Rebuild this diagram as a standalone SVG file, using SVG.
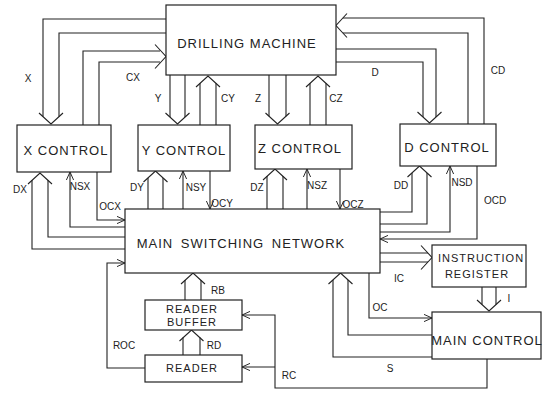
<svg xmlns="http://www.w3.org/2000/svg" width="545" height="395" viewBox="0 0 545 395">
<style>
.box{fill:#fff;stroke:#222;stroke-width:1.2}
.ln{fill:none;stroke:#222;stroke-width:1.1}
.ch{fill:none;stroke:#222;stroke-width:1.1}
.t{font-family:"Liberation Sans",Arial,sans-serif;font-size:13px;fill:#222;text-anchor:middle;letter-spacing:1px}
.s{font-family:"Liberation Sans",Arial,sans-serif;font-size:10px;fill:#222;text-anchor:middle}
</style>
<defs>
<marker id="a" viewBox="0 0 10 10" refX="10" refY="5" markerWidth="8" markerHeight="8" orient="auto" markerUnits="userSpaceOnUse">
<path d="M0,0.5 L10,5 L0,9.5" fill="none" stroke="#222" stroke-width="1.2"/>
</marker>
</defs>
<rect width="545" height="395" fill="#fff"/>

<g id="connectors">
<!-- X bus -->
<path class="ln" d="M166,19 H43 V116.6 M166,33 H59 V116.6"/>
<polyline class="ch" points="39,113 51,124 63,113"/>
<!-- CX bus -->
<path class="ln" d="M83,125 V51 H160 M99,125 V62 H160"/>
<polyline class="ch" points="155,44.5 166,56.5 155,68.5"/>
<!-- Y bus -->
<path class="ln" d="M170,75 V117 M185,75 V117"/>
<polyline class="ch" points="165.5,113 177.5,124 189.5,113"/>
<!-- CY bus -->
<path class="ln" d="M200,125 V83.3 M216,125 V83.3"/>
<polyline class="ch" points="196,87 208,76 220,87"/>
<!-- Z bus -->
<path class="ln" d="M269,75 V116.2 M286,75 V116.2"/>
<polyline class="ch" points="265.5,113 277.5,124 289.5,113"/>
<!-- CZ bus -->
<path class="ln" d="M310,125 V83.3 M326,125 V83.3"/>
<polyline class="ch" points="306,87 318,76 330,87"/>
<!-- D bus -->
<path class="ln" d="M336,49 H436 V117 M336,62 H423 V117"/>
<polyline class="ch" points="417.5,112 429.5,123 441.5,112"/>
<!-- CD bus -->
<path class="ln" d="M468,124 V33 H342.9 M484,124 V18 H342.9"/>
<polyline class="ch" points="347,13.5 336,25.5 347,37.5"/>

<!-- X control to MSN -->
<path class="ln" d="M125,249 H32 V180.3 M125,237 H48 V180.3"/>
<polyline class="ch" points="28,184 40,173 52,184"/>
<path class="ln" d="M125,227 H70 V172" marker-end="url(#a)"/>
<path class="ln" d="M97,172 V220 H125" marker-end="url(#a)"/>

<!-- Y control to MSN -->
<path class="ln" d="M148,209 V177.9 M163,209 V177.9"/>
<polyline class="ch" points="143.5,182 155.5,171 167.5,182"/>
<path class="ln" d="M183,209 V171" marker-end="url(#a)"/>
<path class="ln" d="M210,171 V209" marker-end="url(#a)"/>

<!-- Z control to MSN -->
<path class="ln" d="M267,209 V175.9 M283,209 V175.9"/>
<polyline class="ch" points="263,180 275,169 287,180"/>
<path class="ln" d="M307,209 V169" marker-end="url(#a)"/>
<path class="ln" d="M340,169 V209" marker-end="url(#a)"/>

<!-- D control to MSN -->
<path class="ln" d="M380,212 H412 V172.9 M380,224 H427 V172.9"/>
<polyline class="ch" points="407.5,177 419.5,166 431.5,177"/>
<path class="ln" d="M380,232 H450 V166" marker-end="url(#a)"/>
<path class="ln" d="M477,166 V239 H380" marker-end="url(#a)"/>

<!-- IC bus -->
<path class="ln" d="M380,253 H428 M380,262 H428"/>
<polyline class="ch" points="421,245.5 432,257.5 421,269.5"/>
<!-- I bus -->
<path class="ln" d="M482,287 V304.6 M496,287 V304.6"/>
<polyline class="ch" points="477,300 489,311 501,300"/>
<!-- OC -->
<path class="ln" d="M369,273 V318 H432" marker-end="url(#a)"/>
<!-- S bus -->
<path class="ln" d="M432,335 H348 V279.9 M432,357 H333 V279.9"/>
<polyline class="ch" points="328.5,284 340.5,273 352.5,284"/>
<!-- RC -->
<path class="ln" d="M487,359 V388 H275 V315 H242" marker-end="url(#a)"/>
<path class="ln" d="M275,367 H242" marker-end="url(#a)"/>
<!-- RB bus -->
<path class="ln" d="M185,300 V280 M201,300 V280"/>
<polyline class="ch" points="181,284 193,273 205,284"/>
<!-- RD bus -->
<path class="ln" d="M183,355 V337.5 M200,355 V337.5"/>
<polyline class="ch" points="179.5,341 191.5,330 203.5,341"/>
<!-- ROC -->
<path class="ln" d="M145,368 H107 V263 H125" marker-end="url(#a)"/>

<!-- labels -->
<text class="s" x="28" y="82">X</text>
<text class="s" x="133" y="81">CX</text>
<text class="s" x="158" y="102">Y</text>
<text class="s" x="228" y="102">CY</text>
<text class="s" x="258" y="102">Z</text>
<text class="s" x="336" y="102">CZ</text>
<text class="s" x="375" y="76">D</text>
<text class="s" x="498" y="74">CD</text>
<text class="s" x="20" y="193">DX</text>
<text class="s" x="80" y="190">NSX</text>
<text class="s" x="110" y="210">OCX</text>
<text class="s" x="137" y="191">DY</text>
<text class="s" x="196" y="191">NSY</text>
<text class="s" x="222" y="207">OCY</text>
<text class="s" x="257" y="191">DZ</text>
<text class="s" x="317" y="189">NSZ</text>
<text class="s" x="353" y="208">OCZ</text>
<text class="s" x="401" y="189">DD</text>
<text class="s" x="462" y="186">NSD</text>
<text class="s" x="495" y="204">OCD</text>
<text class="s" x="399" y="282">IC</text>
<text class="s" x="509" y="302">I</text>
<text class="s" x="380" y="311">OC</text>
<text class="s" x="390" y="372">S</text>
<text class="s" x="289" y="379">RC</text>
<text class="s" x="218" y="294">RB</text>
<text class="s" x="214" y="349">RD</text>
<text class="s" x="124" y="349">ROC</text>
</g>

<g id="drilling-machine">
<rect class="box" x="166" y="5" width="170" height="70"/>
<text class="t" x="247" y="48">DRILLING MACHINE</text>
</g>
<g id="x-control">
<rect class="box" x="17" y="125" width="94" height="47"/>
<text class="t" x="66" y="155">X CONTROL</text>
</g>
<g id="y-control">
<rect class="box" x="138" y="125" width="92" height="46"/>
<text class="t" x="184" y="155">Y CONTROL</text>
</g>
<g id="z-control">
<rect class="box" x="255" y="125" width="97" height="44"/>
<text class="t" x="300" y="153">Z CONTROL</text>
</g>
<g id="d-control">
<rect class="box" x="400" y="124" width="96" height="42"/>
<text class="t" x="447" y="152">D CONTROL</text>
</g>
<g id="main-switching-network">
<rect class="box" x="125" y="209" width="255" height="64"/>
<text class="t" x="241" y="248" style="word-spacing:3px">MAIN SWITCHING NETWORK</text>
</g>
<g id="instruction-register">
<rect class="box" x="432" y="245" width="94" height="42"/>
<text class="t" x="481" y="262" style="font-size:11px">INSTRUCTION</text>
<text class="t" x="477" y="278" style="font-size:11px">REGISTER</text>
</g>
<g id="main-control">
<rect class="box" x="432" y="312" width="109" height="47"/>
<text class="t" x="487" y="345">MAIN CONTROL</text>
</g>
<g id="reader-buffer">
<rect class="box" x="145" y="300" width="97" height="30"/>
<text class="t" x="192" y="313" style="font-size:11px">READER</text>
<text class="t" x="192" y="326" style="font-size:11px">BUFFER</text>
</g>
<g id="reader">
<rect class="box" x="145" y="355" width="97" height="27"/>
<text class="t" x="192" y="372" style="font-size:11px">READER</text>
</g>
</svg>
